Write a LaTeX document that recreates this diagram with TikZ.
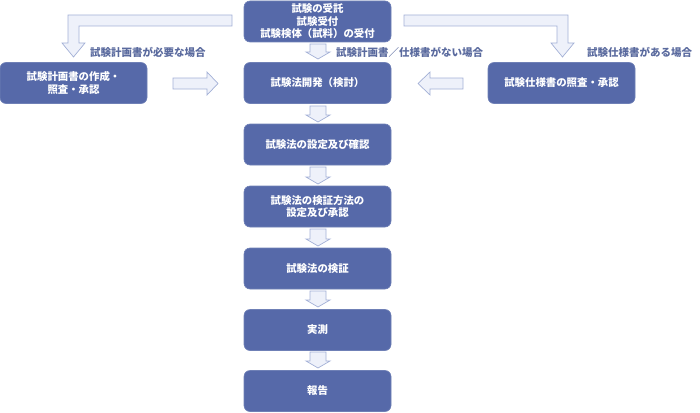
\documentclass[tikz,border=0pt]{standalone}
\usepackage{fontspec}
\newfontfamily\jp{Noto Sans CJK JP}
\definecolor{boxblue}{HTML}{5669A9}
\definecolor{arrfill}{HTML}{EEF1FA}
\definecolor{arrline}{HTML}{A3B0D6}
\definecolor{lbl}{HTML}{5A6A9E}
\tikzset{
  stepbox/.style={draw=boxblue!85!white, fill=boxblue, rounded corners=6pt, text=white,
    font=\jp\bfseries\fontsize{10.4pt}{12.5pt}\selectfont, align=center,
    minimum width=147pt, minimum height=41pt, inner sep=0pt, line width=0.6pt},
  blockarr/.style={draw=arrline, fill=arrfill, line width=0.7pt, line join=miter},
  cond/.style={text=lbl, font=\jp\bfseries\fontsize{10.5pt}{12pt}\selectfont, anchor=west, inner sep=0pt}
}
\newcommand\dnarrow[3]{%
  \draw[blockarr] (#1-8,#2) -- (#1+8,#2) -- (#1+8,#3-7) -- (#1+12,#3-7) -- (#1,#3)
    -- (#1-12,#3-7) -- (#1-8,#3-7) -- cycle;}
\begin{document}
\begin{tikzpicture}[x=1pt,y=-1pt]
\useasboundingbox (0,0) rectangle (700,412);
% boxes
\node[stepbox] (recv) at (317.5,21.5) {試験の受託\\試験受付\\試験検体（試料）の受付};
\node[stepbox] (dev) at (317.5,83) {試験法開発（検討）};
\node[stepbox] (plan) at (73.5,83) {試験計画書の作成・\\照査・承認};
\node[stepbox] (spec) at (561.5,83) {試験仕様書の照査・承認};
\node[stepbox] (set) at (317.5,144.5) {試験法の設定及び確認};
\node[stepbox] (vmeth) at (317.5,206.5) {試験法の検証方法の\\設定及び承認};
\node[stepbox] (verif) at (317.5,268.5) {試験法の検証};
\node[stepbox] (meas) at (317.5,330) {実測};
\node[stepbox] (rep) at (317.5,391) {報告};
% condition labels
\node[cond] (l1) at (90,52) {試験計画書が必要な場合};
\node[cond] (l2) at (336,52) {試験計画書／仕様書がない場合};
\node[cond] (l3) at (587,52) {試験仕様書がある場合};
% L-shaped arrows
\draw[blockarr] (232,15) -- (232,26) -- (79,26) -- (79,43) -- (85,43) -- (73.5,57)
  -- (62,43) -- (68,43) -- (68,15) -- cycle;
\draw[blockarr] (404,15) -- (404,26) -- (557,26) -- (557,43) -- (551,43) -- (562.5,57)
  -- (574,43) -- (568,43) -- (568,15) -- cycle;
% horizontal arrows
\draw[blockarr] (173,78) -- (207,78) -- (207,72) -- (218,83.5) -- (207,95) -- (207,89)
  -- (173,89) -- cycle;
\draw[blockarr] (463,78) -- (430,78) -- (430,72) -- (418,83.5) -- (430,95) -- (430,89)
  -- (463,89) -- cycle;
% vertical arrows
\dnarrow{318}{44}{59}
\dnarrow{318}{106}{122}
\dnarrow{318}{167}{184}
\dnarrow{318}{229}{246}
\dnarrow{318}{291}{307}
\dnarrow{318}{352}{368}
\end{tikzpicture}
\end{document}
